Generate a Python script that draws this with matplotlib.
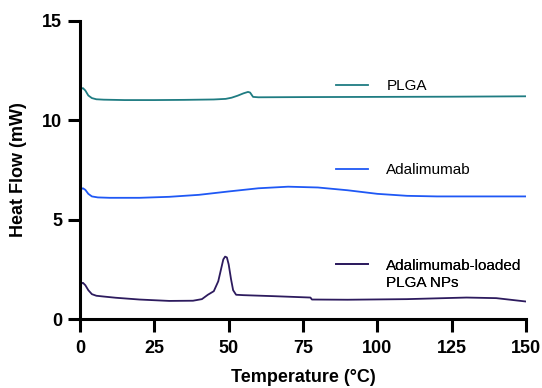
import numpy as np
import matplotlib
matplotlib.use("Agg")
import matplotlib.pyplot as plt
from matplotlib.lines import Line2D

plt.rcParams['font.family'] = ['Liberation Sans', 'DejaVu Sans']

# curvas DSC (temperatura en °C, flujo de calor en mW)
t_plga = [0, 0, 0.5, 1.0, 1.8, 2.8, 4.0, 5.5, 8, 15, 25, 35, 45, 49, 51, 53, 55, 56.5, 57.2, 58.2,
          60, 75, 100, 125, 150]
hf_plga = [10.0, 11.35, 11.6, 11.62, 11.5, 11.25, 11.12, 11.06, 11.04, 11.02, 11.02, 11.03, 11.05,
           11.08, 11.14, 11.24, 11.36, 11.43, 11.40, 11.18, 11.16, 11.17, 11.18, 11.19, 11.21]

t_ada = [0, 0, 0.5, 1.0, 1.8, 2.8, 4.0, 6, 10, 20, 30, 40, 50, 60, 70, 80, 90, 100, 110, 120, 135, 150]
hf_ada = [5.0, 6.3, 6.55, 6.58, 6.5, 6.3, 6.17, 6.12, 6.1, 6.1, 6.15, 6.25, 6.42, 6.58, 6.66, 6.62,
          6.48, 6.3, 6.2, 6.17, 6.17, 6.17]

t_nps = [0, 0, 0.5, 1.0, 1.8, 2.8, 4.0, 5.5, 8, 12, 20, 30, 38, 41, 43, 45, 46.5, 47.5, 48.2, 48.8,
         49.4, 50, 50.8, 51.5, 52.5, 55, 65, 77.5, 78, 90, 110, 130, 140, 150]
hf_nps = [0.0, 1.5, 1.8, 1.82, 1.7, 1.45, 1.25, 1.17, 1.13, 1.07, 0.98, 0.91, 0.92, 1.0, 1.22, 1.4,
          1.9, 2.55, 3.0, 3.14, 3.1, 2.75, 2.0, 1.45, 1.22, 1.2, 1.15, 1.08, 0.98, 0.97, 1.0, 1.08,
          1.05, 0.88]

series = [
    (["PLGA"], t_plga, hf_plga, "#1f7c82", 0.782),
    (["Adalimumab"], t_ada, hf_ada, "#1f58f5", 0.50),
    (["Adalimumab-loaded", "PLGA NPs"], t_nps, hf_nps, "#2d1b5e", 0.150),
]

x_ticks = [0, 25, 50, 75, 100, 125, 150]
y_ticks = [0, 5, 10, 15]

fig = plt.figure(figsize=(5.42, 3.88), dpi=100)
ax = fig.add_axes([80 / 542, 1 - 319 / 388, 446 / 542, 298 / 388])

for etiquetas, t, hf, color, y_leg in series:
    linea, = ax.plot(t, hf, color=color, lw=1.3, solid_joinstyle='round')
    # la segunda linea del texto va sin muestra de linea
    handles = [linea] + [Line2D([], [], lw=0, alpha=0)] * (len(etiquetas) - 1)
    leg = ax.legend(handles, etiquetas, loc='center left', bbox_to_anchor=(0.574, y_leg),
                    frameon=False, fontsize=11, handlelength=2.1, handletextpad=1.2,
                    labelspacing=0.2, borderpad=0, borderaxespad=0)
    ax.add_artist(leg)

ax.set_xlim(0, 150)
ax.set_ylim(0, 15)
ax.set_xticks(x_ticks)
ax.set_yticks(y_ticks)
ax.spines['top'].set_visible(False)
ax.spines['right'].set_visible(False)
for s in ['left', 'bottom']:
    ax.spines[s].set_linewidth(2.2)
ax.tick_params(direction='out', length=9, width=2.2, labelsize=13, pad=4)
ax.tick_params(axis='x', pad=6)
for lab in ax.get_xticklabels() + ax.get_yticklabels():
    lab.set_fontweight('bold')

ax.set_xlabel("Temperature (°C)", fontsize=13, fontweight='bold', labelpad=9)
ax.set_ylabel("Heat Flow (mW)", fontsize=13, fontweight='bold', labelpad=11)

fig.savefig("out.png", dpi=100)
